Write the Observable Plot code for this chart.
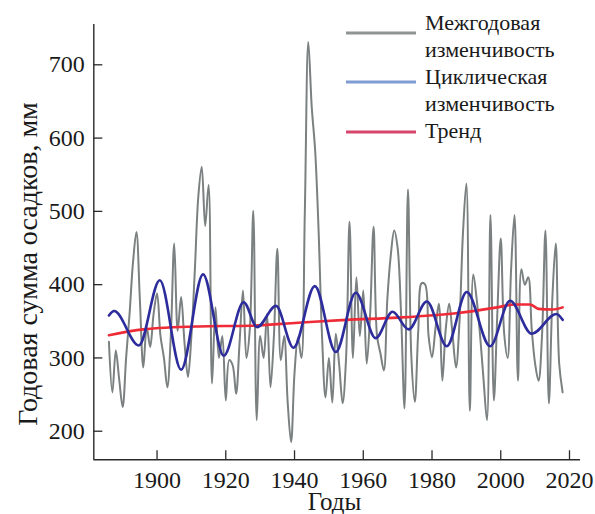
<!DOCTYPE html>
<html><head><meta charset="utf-8">
<script src="https://cdn.jsdelivr.net/npm/d3@7"></script>
<script src="https://cdn.jsdelivr.net/npm/@observablehq/plot@0.6"></script>
<style>
body{margin:0;background:#fff;}
#wrap{position:relative;width:595px;height:514px;overflow:hidden;}
#wrap svg{position:absolute;left:0;top:0;}
</style></head><body><div id="wrap"></div>
<script>
// Interannual variability (annual precipitation, mm), 1886–2018
const years = d3.range(1886, 2019);
const interannual = [
 322,253,310,270,233,300,360,430,472,380, // 1886-1895
 287,342,315,360,388,330,300,260,330,456, // 1896-1905
 337,383,320,274,330,420,520,561,480,536, // 1906-1915
 265,369,300,330,242,297,290,251,320,392, // 1916-1925
 300,340,501,215,330,300,360,260,330,449, // 1926-1935
 297,330,240,185,280,328,300,500,731,643, // 1936-1945
 583,474,330,246,300,239,333,290,238,300, // 1946-1955
 486,300,410,330,392,292,360,479,330,306, // 1956-1965
 283,380,440,474,450,360,231,530,300,240, // 1966-1975
 337,402,400,330,301,340,374,269,340,374, // 1976-1985
 330,287,350,470,538,228,414,380,330,270, // 1986-1995
 215,495,242,360,463,333,300,420,495,269, // 1996-2005
 421,400,410,340,292,269,330,474,238,380, // 2006-2015
 456,292,253                                // 2016-2018
];
// Cyclic variability: read extremes of the smooth blue curve
const cyclicYears  = [1886,1887.5,1894.7,1900.8,1907,1913.4,1919.4,1925.2,1929.1,1934.6,1939.7,1945.9,1952,1957.8,1963.6,1968.5,1973.2,1978.5,1984.3,1990.1,1996.9,2002.7,2009,2016.2,2018];
const cyclicValues = [358,364,317,406,284,414,303,376,342,371,314,398,308,389,327,363,339,377,316,390,316,378,333,360,352];
// Trend
const trendYears  = [1886,1896,1912,1927,1941,1955,1970,1987,1999,2004,2008.5,2011,2015,2018];
const trendValues = [331,339,343,344,348,352,355,361,369,373,373,367,366,369];

const xTicks = [1900,1920,1940,1960,1980,2000,2020];
const yTicks = [200,300,400,500,600,700];
const xDomain = [1881.6, 2023.2];
const yDomain = [161, 755];

const legendLabels = [["Межгодовая","изменчивость"],["Циклическая","изменчивость"],["Тренд"]];
const legendColors = ["#8f9494","#7f9dd4","#d6456b"];

const inter = years.map((y,i)=>({year:y, value:interannual[i]}));
const cyc = cyclicYears.map((y,i)=>({year:y, value:cyclicValues[i]}));
const tr = trendYears.map((y,i)=>({year:y, value:trendValues[i]}));

const W=595, H=514, mL=93.3, mR=15, mT=24, mB=54.7;
const fw = W-mL-mR, fh = H-mT-mB;
const axisColor = "#2a2a2a";
const serif = "'Liberation Serif', 'Times New Roman', serif";

const chart = Plot.plot({
  width: W, height: H,
  marginLeft: mL, marginRight: mR, marginTop: mT, marginBottom: mB,
  style: {fontFamily: serif, fontSize: "24px", color: "#1a1a1a", background: "transparent"},
  x: {domain: xDomain},
  y: {domain: yDomain},
  marks: [
    Plot.line(inter, {x:"year", y:"value", stroke:"#7b8080", strokeWidth:2, curve:"catmull-rom"}),
    Plot.line(tr, {x:"year", y:"value", stroke:"#ee2b36", strokeWidth:2.6, curve:"monotone-x"}),
    Plot.line(cyc, {x:"year", y:"value", stroke:"#2c2c9c", strokeWidth:2.6, curve:"monotone-x"}),
    Plot.gridX(xTicks, {stroke: axisColor, strokeOpacity:1, strokeWidth:1.3, insetTop: fh-9}),
    Plot.gridY(yTicks, {stroke: axisColor, strokeOpacity:1, strokeWidth:1.3, insetRight: fw-9}),
    Plot.ruleX([xDomain[0]], {stroke: axisColor, strokeWidth:1.4}),
    Plot.ruleY([yDomain[0]], {stroke: axisColor, strokeWidth:1.4}),
    Plot.axisX(xTicks, {tickSize:0, tickPadding:11, tickFormat: d=>String(d), label:null, fontSize:24}),
    Plot.axisY(yTicks, {tickSize:0, tickPadding:9, label:null, fontSize:24})
  ]
});
document.getElementById("wrap").appendChild(chart);

const svg = d3.select(chart);
svg.append("text").attr("x", W/2 + 37).attr("y", 510).attr("text-anchor","middle")
  .attr("font-size", 25).attr("fill","#1a1a1a").attr("font-family", serif).text("Годы");
svg.append("text").attr("transform","translate(37,264) rotate(-90)").attr("text-anchor","middle")
  .attr("font-size", 28).attr("fill","#1a1a1a").attr("font-family", serif).text("Годовая сумма осадков, мм");

// Legend
const leg = svg.append("g").attr("font-family", serif).attr("font-size",22).attr("fill","#1a1a1a").attr("text-anchor","start");
const lineY = [33, 82, 132];
const textY = [[30,57],[84,111],[138]];
legendLabels.forEach((lab,i)=>{
  leg.append("line").attr("x1",346).attr("x2",416).attr("y1",lineY[i]).attr("y2",lineY[i])
    .attr("stroke",legendColors[i]).attr("stroke-width",3);
  lab.forEach((t,j)=>leg.append("text").attr("x",425).attr("y",textY[i][j]).attr("text-anchor","start").text(t));
});
</script></body></html>
